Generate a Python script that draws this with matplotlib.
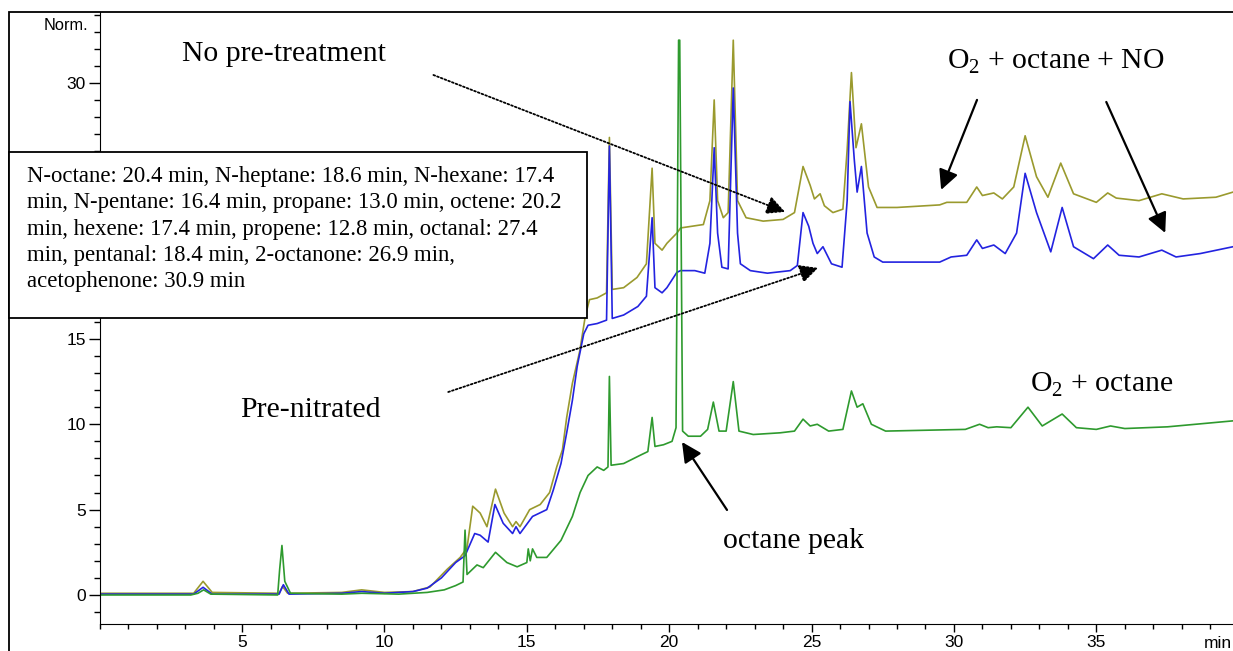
import matplotlib
matplotlib.use("Agg")
import matplotlib.pyplot as plt
from matplotlib.patches import Rectangle
from matplotlib.ticker import MultipleLocator

plt.rcParams['font.family'] = ['Liberation Sans', 'DejaVu Sans']
plt.rcParams['mathtext.fontset'] = 'custom'
plt.rcParams['mathtext.rm'] = 'Liberation Serif'

# retention time (min) and normalised signal
t_green = [0.0, 3.2, 3.45, 3.65, 3.9, 6.25, 6.32, 6.4, 6.5, 6.7, 8.5, 9.2, 10.5, 11.5,
           12.1, 12.5, 12.76, 12.83, 12.9, 13.25, 13.47, 13.9, 14.3, 14.66, 15.0, 15.05,
           15.12, 15.2, 15.35, 15.7, 16.2, 16.6, 16.87, 17.15, 17.47, 17.7, 17.85, 17.9,
           17.96, 18.4, 19.0, 19.25, 19.4, 19.5, 19.8, 20.1, 20.24, 20.33, 20.37, 20.47,
           20.67, 21.1, 21.35, 21.55, 21.75, 22.0, 22.25, 22.45, 22.95, 23.9, 24.4, 24.7,
           24.95, 25.2, 25.6, 26.1, 26.4, 26.6, 26.8, 27.1, 27.6, 30.4, 30.9, 31.2, 31.5,
           32.0, 32.6, 33.1, 33.8, 34.3, 35.0, 35.5, 36.0, 37.5, 39.8]
v_green = [0.0, 0.0, 0.1, 0.3, 0.05, 0.0, 1.5, 2.9, 0.8, 0.1, 0.05, 0.1, 0.05, 0.15,
           0.3, 0.55, 0.76, 3.8, 1.2, 1.76, 1.6, 2.5, 1.9, 1.65, 1.9, 2.7,
           2.0, 2.7, 2.2, 2.2, 3.2, 4.6, 6.0, 7.0, 7.5, 7.3, 7.5, 12.8,
           7.6, 7.7, 8.2, 8.4, 10.4, 8.7, 8.8, 9.0, 9.8, 32.5, 32.5, 9.6,
           9.3, 9.3, 9.7, 11.3, 9.6, 9.6, 12.5, 9.6, 9.4, 9.5, 9.6, 10.3,
           9.9, 10.0, 9.6, 9.7, 11.95, 11.0, 11.2, 10.0, 9.6, 9.7, 10.0, 9.8, 9.85,
           9.8, 11.0, 9.9, 10.6, 9.8, 9.7, 9.9, 9.75, 9.85, 10.2]

t_olive = [0.0, 3.3, 3.63, 3.95, 6.3, 6.42, 6.6, 8.5, 9.2, 10.0, 11.0, 11.6, 12.2, 12.66,
           12.9, 13.1, 13.36, 13.6, 13.9, 14.2, 14.5, 14.62, 14.76, 15.1, 15.47, 15.8,
           16.05, 16.25, 16.4, 16.6, 16.86, 17.05, 17.2, 17.47, 17.8, 17.9, 18.0, 18.4,
           18.87, 19.2, 19.4, 19.5, 19.75, 19.92, 20.27, 20.4, 20.8, 21.2, 21.43, 21.58,
           21.7, 21.9, 22.07, 22.25, 22.4, 22.7, 23.3, 24.0, 24.4, 24.7, 24.95, 25.1,
           25.3, 25.45, 25.75, 26.1, 26.25, 26.4, 26.56, 26.75, 27.0, 27.3, 28.0, 29.5,
           29.75, 30.45, 30.8, 31.0, 31.4, 31.7, 32.1, 32.5, 32.9, 33.3, 33.75, 34.2,
           35.0, 35.4, 35.7, 36.5, 37.3, 38.05, 39.2, 39.8]
v_olive = [0.1, 0.1, 0.8, 0.15, 0.1, 0.5, 0.1, 0.15, 0.3, 0.15, 0.2, 0.47, 1.5, 2.2,
           2.75, 5.2, 4.8, 4.0, 6.2, 4.8, 4.0, 4.3, 4.0, 5.0, 5.3, 6.0,
           7.5, 8.5, 10.4, 12.4, 14.3, 16.3, 17.3, 17.4, 17.7, 26.8, 17.9, 18.0,
           18.6, 19.4, 25.0, 20.6, 20.2, 20.6, 21.2, 21.5, 21.6, 21.7, 23.1, 29.0,
           23.1, 22.1, 22.4, 32.5, 23.1, 22.1, 21.9, 22.0, 22.4, 25.1, 24.0, 23.2,
           23.5, 22.8, 22.4, 22.6, 26.1, 30.6, 26.2, 27.6, 23.9, 22.7, 22.7, 22.85,
           23.0, 23.0, 23.9, 23.4, 23.55, 23.2, 23.9, 26.9, 24.5, 23.3, 25.3, 23.5,
           23.0, 23.55, 23.25, 23.1, 23.5, 23.2, 23.3, 23.6]

t_blue = [0.0, 3.3, 3.63, 3.95, 6.3, 6.45, 6.65, 8.5, 9.2, 10.0, 11.0, 11.5, 12.0, 12.5,
          12.83, 13.17, 13.36, 13.64, 13.88, 14.17, 14.5, 14.62, 14.76, 15.2, 15.7, 15.93,
          16.2, 16.4, 16.6, 16.77, 17.0, 17.15, 17.47, 17.8, 17.9, 18.0, 18.4, 18.9,
          19.2, 19.4, 19.5, 19.75, 19.92, 20.27, 20.4, 20.9, 21.25, 21.43, 21.58, 21.7,
          21.85, 22.07, 22.25, 22.4, 22.5, 22.85, 23.45, 24.25, 24.5, 24.7, 24.9, 25.05,
          25.2, 25.4, 25.7, 26.07, 26.25, 26.35, 26.5, 26.6, 26.75, 26.95, 27.2, 27.5,
          29.5, 29.9, 30.45, 30.8, 31.0, 31.4, 31.8, 32.2, 32.5, 32.9, 33.4, 33.8,
          34.2, 34.9, 35.4, 35.8, 36.5, 37.3, 37.8, 38.65, 39.8]
v_blue = [0.05, 0.05, 0.45, 0.05, 0.05, 0.6, 0.05, 0.1, 0.2, 0.1, 0.2, 0.4, 1.0, 1.9,
          2.3, 3.6, 3.5, 3.1, 5.3, 4.2, 3.6, 4.0, 3.6, 4.6, 5.0, 6.15,
          7.7, 9.5, 11.4, 13.4, 15.3, 15.8, 15.9, 16.1, 26.3, 16.2, 16.4, 16.9,
          17.5, 22.1, 18.0, 17.7, 18.0, 18.9, 19.0, 19.0, 18.85, 20.6, 26.2, 21.2,
          19.2, 19.1, 29.7, 21.2, 19.4, 19.0, 18.85, 19.0, 19.3, 22.4, 21.6, 20.6,
          20.0, 20.4, 19.4, 19.2, 23.1, 28.9, 25.5, 23.6, 25.1, 21.2, 19.8, 19.5,
          19.5, 19.8, 19.9, 20.8, 20.3, 20.5, 20.0, 21.2, 24.7, 22.4, 20.1, 22.7,
          20.4, 19.7, 20.5, 19.9, 19.8, 20.2, 19.8, 20.0, 20.4]

y_ticks = [0, 5, 10, 15, 20, 25, 30]
y_ticklabels = ["0", "5", "10", "15", "", "", "30"]   # 20 and 25 sit behind the note box
x_ticks = [5, 10, 15, 20, 25, 30, 35]

retention_note = ("N-octane: 20.4 min, N-heptane: 18.6 min, N-hexane: 17.4\n"
                  "min, N-pentane: 16.4 min, propane: 13.0 min, octene: 20.2\n"
                  "min, hexene: 17.4 min, propene: 12.8 min, octanal: 27.4\n"
                  "min, pentanal: 18.4 min, 2-octanone: 26.9 min,\n"
                  "acetophenone: 30.9 min")

W, H = 1233, 651
fig = plt.figure(figsize=(W / 100, H / 100), dpi=100)
ax = fig.add_axes([99.7 / W, 27 / H, 1133.3 / W, 612 / H])

ax.plot(t_olive, v_olive, color="#9a9a2e", lw=1.2)
ax.plot(t_blue, v_blue, color="#2323e0", lw=1.2)
ax.plot(t_green, v_green, color="#2e9a2e", lw=1.2)

ax.set_xlim(0, 39.8)
ax.set_ylim(-1.7, 34.15)
for s in ("top", "right"):
    ax.spines[s].set_visible(False)
ax.set_xticks(x_ticks)
ax.xaxis.set_minor_locator(MultipleLocator(1))
ax.set_yticks(y_ticks)
ax.set_yticklabels(y_ticklabels)
ax.yaxis.set_minor_locator(MultipleLocator(1))
ax.tick_params(axis="x", which="major", length=6, width=1, pad=2, labelsize=12.5)
ax.tick_params(axis="x", which="minor", length=3.5, width=1)
ax.tick_params(axis="y", which="major", length=8, width=1, pad=2, labelsize=12.5)
ax.tick_params(axis="y", which="minor", length=4.3, width=1)
fig.text(1 - 1 / W, 1 - 643 / H, "min", ha="right", va="center", fontsize=12.5)
fig.text(88 / W, 1 - 25 / H, "Norm.", ha="right", va="center", fontsize=11.8)

serif = "Liberation Serif"
fs = 21.4
ax.text(2.9, 31.7, "No pre-treatment", family=serif, fontsize=fs, va="center")
ax.text(4.93, 10.84, "Pre-nitrated", family=serif, fontsize=fs, va="center")
ax.text(29.76, 31.2, r"O$_{\mathrm{2}}$ + octane + NO", family=serif, fontsize=fs, va="center")
ax.text(32.67, 12.3, r"O$_{\mathrm{2}}$ + octane", family=serif, fontsize=fs, va="center")
ax.text(21.89, 3.16, "octane peak", family=serif, fontsize=fs, va="center")

dotted = dict(arrowstyle="-|>", mutation_scale=28, lw=1.3, ls=(0, (1, 1.2)),
              color="black", shrinkA=0, shrinkB=0)
solid = dict(arrowstyle="-|>", mutation_scale=30, lw=1.6, color="black",
             shrinkA=0, shrinkB=0)
ax.annotate("", xy=(24.07, 22.44), xytext=(11.72, 30.46), arrowprops=dotted)
ax.annotate("", xy=(25.23, 19.16), xytext=(12.24, 11.89), arrowprops=dotted)
ax.annotate("", xy=(29.55, 23.73), xytext=(30.81, 29.0), arrowprops=solid)
ax.annotate("", xy=(37.42, 21.21), xytext=(35.35, 28.88), arrowprops=solid)
ax.annotate("", xy=(20.45, 8.96), xytext=(22.03, 4.98), arrowprops=solid)

# outer frame and retention-time box
fig.add_artist(Rectangle((9 / W, -0.1), 1.2, 1 - 12 / H + 0.1, fill=False,
                         lw=1.3, ec="black", transform=fig.transFigure, zorder=4))
fig.add_artist(Rectangle((9 / W, 1 - 318 / H), 578 / W, 166 / H, fc="white",
                         lw=1.3, ec="black", transform=fig.transFigure, zorder=5))
fig.text(27 / W, 1 - 166 / H, retention_note, family=serif, fontsize=16.4,
         va="top", ha="left", linespacing=1.33, zorder=6)

fig.savefig("out.png", dpi=100)
